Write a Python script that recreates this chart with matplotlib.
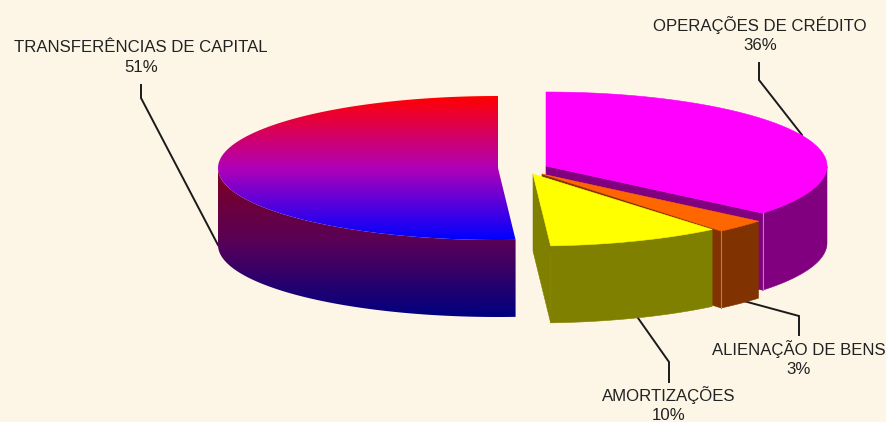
"""3D-look exploded pie of capital revenue shares, drawn in pixel coords."""
import numpy as np
import matplotlib
matplotlib.use("Agg")
import matplotlib.pyplot as plt
from matplotlib.colors import LinearSegmentedColormap
from matplotlib.patches import Polygon

labels = ["OPERAÇÕES DE CRÉDITO", "ALIENAÇÃO DE BENS", "AMORTIZAÇÕES", "TRANSFERÊNCIAS DE CAPITAL"]
shares = [36, 3, 10, 51]

W, H = 886, 422
BG = "#FDF6E6"
RX, RY, DEPTH = 281, 74, 77

plt.rcParams["font.family"] = ["Liberation Sans", "DejaVu Sans"]

fig = plt.figure(figsize=(W / 100, H / 100), dpi=100, facecolor=BG)
ax = fig.add_axes([0, 0, 1, 1])
ax.set_facecolor(BG)
ax.axis("off")

# wedge angles clockwise from 12 o'clock
edges = np.concatenate([[0], np.cumsum(shares)]) * 3.6
spans = list(zip(edges[:-1], edges[1:]))


def rim(cx, cy, a0, a1, rx=RX, ry=RY, n=120):
    t = np.radians(np.linspace(a0, a1, n))
    return np.column_stack([cx + rx * np.sin(t), cy - ry * np.cos(t)])


def top_face(cx, cy, a0, a1, **kw):
    return np.vstack([[cx, cy], rim(cx, cy, a0, a1, **kw)])


def wall(cx, cy, a0, a1, **kw):
    r = rim(cx, cy, a0, a1, **kw)
    return np.vstack([r, r[::-1] + [0, DEPTH]])


def cut(cx, cy, a, **kw):
    p = rim(cx, cy, a, a, n=1, **kw)[0]
    return np.array([[cx, cy], p, p + [0, DEPTH], [cx, cy + DEPTH]])


def flat(pts, color, z):
    ax.add_patch(Polygon(pts, closed=True, fc=color, ec=color, lw=0.4, zorder=z))


def gradient(pts, colors, y0, y1, z):
    cmap = LinearSegmentedColormap.from_list("g", colors)
    xs = pts[:, 0]
    im = ax.imshow(np.linspace(0, 1, 256)[:, None], cmap=cmap, aspect="auto",
                   extent=[xs.min() - 1, xs.max() + 1, y1, y0], zorder=z,
                   interpolation="bilinear")
    clip = Polygon(pts, closed=True, transform=ax.transData)
    im.set_clip_path(clip)


# magenta wedge
a0, a1 = spans[0]
c = (546, 166)
flat(cut(*c, a1), "#800080", 1)
flat(wall(*c, 90, a1), "#800080", 1)
flat(top_face(*c, a0, a1), "#FF00FF", 2)
edge = rim(*c, a1, a1, n=1)[0]
ax.plot([edge[0], edge[0]], [edge[1], edge[1] + DEPTH], color="#B080B0", lw=0.8, zorder=2)

# orange wedge
a0, a1 = spans[1]
c = (542, 174)
flat(cut(*c, a1), "#803300", 3)
flat(wall(*c, a0, a1), "#803300", 3)
flat(top_face(*c, a0, a1), "#FF6600", 4)
edge = rim(*c, a1, a1, n=1)[0]
ax.plot([edge[0], edge[0]], [edge[1], edge[1] + DEPTH], color="#B08060", lw=0.8, zorder=4)

# yellow wedge
a0, a1 = spans[2]
c = (533, 174)
flat(cut(*c, a1, ry=72), "#808000", 5)
flat(wall(*c, a0, a1, ry=72), "#808000", 5)
flat(top_face(*c, a0, a1, ry=72), "#FFFF00", 6)

# red/blue wedge, both faces fade vertically
a0, a1 = spans[3]
c = (498, 168)
gradient(wall(*c, a0, 270, rx=280, ry=72), ["#800020", "#580058", "#000080"],
         c[1], c[1] + 72 + DEPTH, 1)
gradient(top_face(*c, a0, a1, rx=280, ry=72), ["#FF0000", "#B000B8", "#0000FF"],
         c[1] - 72, c[1] + 72, 2)

# leader lines
leaders = [
    ([759, 759, 802], [63, 80, 135]),
    ([799, 799, 740], [335, 316, 300]),
    ([669, 669, 638], [382, 362, 318]),
    ([141, 141, 218], [85, 98, 245]),
]
for xs, ys in leaders:
    ax.plot(xs, ys, color="#1a1a1a", lw=1.4, zorder=0.5, solid_joinstyle="miter")

# labels
label_pos = [(760, 25), (799, 349), (669, 395), (141, 47)]
for name, share, (x, y) in zip(labels, shares, label_pos):
    ax.text(x, y, name, ha="center", va="center", fontsize=12.1, color="#222222")
    ax.text(x, y + 21, f"{share}%", ha="center", va="center", fontsize=12.1, color="#222222")

ax.set_xlim(0, W)
ax.set_ylim(H, 0)
fig.savefig("out.png", dpi=100, facecolor=BG)
